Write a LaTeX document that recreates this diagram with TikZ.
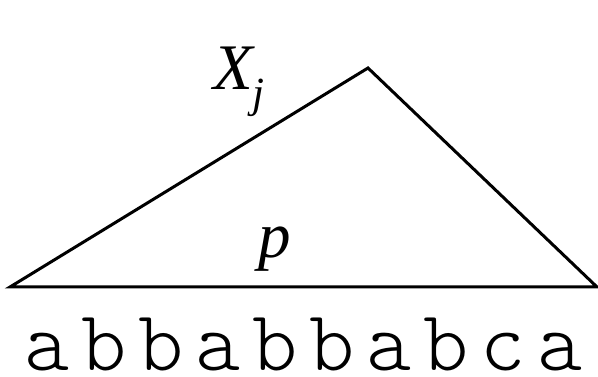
\documentclass[tikz,border=0pt]{standalone}
\usepackage{fontspec}
\setmainfont{Liberation Serif}
\setmonofont{Latin Modern Mono Light}
\usetikzlibrary{positioning}

\begin{document}
\begin{tikzpicture}[
  x=1pt, y=1pt,
  edge/.style={draw=black, line width=3pt},
  lbl/.style={inner sep=0pt, anchor=base west, font=\fontsize{65}{65}\selectfont\itshape},
  sub/.style={lbl, font=\fontsize{43}{43}\selectfont\itshape},
  letter/.style={inner sep=0pt, anchor=base, text depth=0pt,
                 font=\fontsize{86}{86}\selectfont\ttfamily},
]
\useasboundingbox (0,0) rectangle (598,377);

\coordinate (left) at (10,90);
\coordinate (apex) at (368,309);
\coordinate (right) at (597,90);
\draw[edge] (left) -- (apex) -- (right) -- cycle;

\node[lbl] (X) at (213,287) {X};
\node[sub] (j) at (252,269) {j};
\node[lbl] (p) at (258,119) {p};

% the string below the base
\foreach \ch [count=\i from 0] in {a,b,b,a,b,b,a,b,c,a}
  \node[letter] (s\i) at (47.5+56.9*\i,6) {\ch};

\end{tikzpicture}
\end{document}
